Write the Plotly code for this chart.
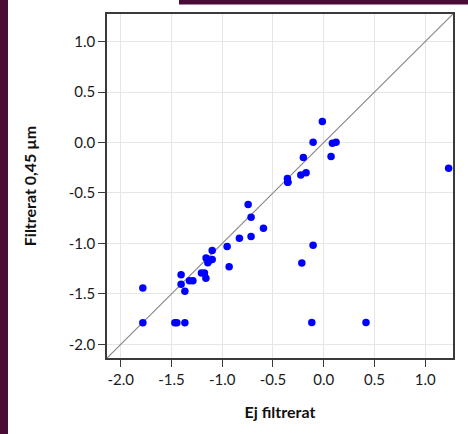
import plotly.graph_objects as go

# Measured values: unfiltered (x) vs. filtered 0.45 µm (y)
ej_filtrerat = [
    -0.358, -0.354, -0.354, -0.745, -0.716, -0.594, -0.831, -0.716, -0.952, -0.932,
    -1.099, -1.099, -1.159, -1.129, -1.142, -1.205, -1.175, -1.161, -1.323, -1.289,
    -1.405, -1.405, -1.368, -1.782, -1.782, -1.467, -1.447, -1.368, -0.216,
    -0.014, -0.105, 0.085, 0.121, 0.072, -0.201, -0.226, -0.174, 1.230,
    -0.105, -0.118, 0.416,
]
filtrerat_045 = [
    -0.356, -0.395, -0.395, -0.615, -0.741, -0.849, -0.948, -0.931, -1.030, -1.231,
    -1.069, -1.158, -1.145, -1.168, -1.191, -1.293, -1.293, -1.345, -1.369, -1.369,
    -1.310, -1.404, -1.473, -1.441, -1.786, -1.786, -1.786, -1.786, -1.194,
    0.209, 0.002, -0.008, 0.002, -0.139, -0.149, -0.323, -0.300, -0.254,
    -1.017, -1.783, -1.783,
]

axis_range = [-2.135, 1.273]
tick_vals = [-2.0, -1.5, -1.0, -0.5, 0.0, 0.5, 1.0]
tick_text = ["-2.0", "-1.5", "-1.0", "-0.5", "0.0", "0.5", "1.0"]

FONT = "Lato, 'Liberation Sans', sans-serif"
PURPLE = "#4a0b36"

fig = go.Figure()

# 1:1 reference line across the full range
fig.add_trace(go.Scatter(
    x=axis_range, y=axis_range, mode="lines",
    line=dict(color="#8a8a8a", width=1.2),
    hoverinfo="skip", showlegend=False,
))

fig.add_trace(go.Scatter(
    x=ej_filtrerat, y=filtrerat_045, mode="markers",
    marker=dict(color="#0000ff", size=7.5, line=dict(width=0)),
    showlegend=False,
))

axis_common = dict(
    range=axis_range,
    tickmode="array", tickvals=tick_vals, ticktext=tick_text,
    showgrid=True, gridcolor="#e6e6e6", gridwidth=1,
    zeroline=False,
    showline=True, linecolor="#3a3a3a", linewidth=1.6, mirror=True,
    ticks="outside", ticklen=7, tickwidth=1.3, tickcolor="#3a3a3a",
    tickfont=dict(family=FONT, size=15, color="#1a1a1a"),
)

fig.update_layout(
    width=468, height=434,
    margin=dict(l=107, r=15, t=12, b=76),
    paper_bgcolor="white", plot_bgcolor="white",
    xaxis=dict(
        **axis_common,
        title=dict(text="<b>Ej filtrerat</b>", standoff=20,
                   font=dict(family=FONT, size=16, color="#111111")),
    ),
    yaxis=dict(
        **axis_common,
        title=dict(text="<b>Filtrerat 0,45 µm</b>", standoff=28,
                   font=dict(family=FONT, size=16, color="#111111")),
    ),
    shapes=[
        # dark side strip on the left edge
        dict(type="rect", xref="paper", yref="paper",
             x0=-107 / 346, x1=-99 / 346, y0=-0.3, y1=1.1,
             fillcolor=PURPLE, line=dict(width=0), layer="above"),
        # thin dark bar along the top edge
        dict(type="rect", xref="paper", yref="paper",
             x0=(179 - 107) / 346, x1=(470 - 107) / 346,
             y0=(357.5 - 2.5) / 345.5, y1=1.1,
             fillcolor=PURPLE, line=dict(width=0), layer="above"),
    ],
)

fig.write_html("out.html")
